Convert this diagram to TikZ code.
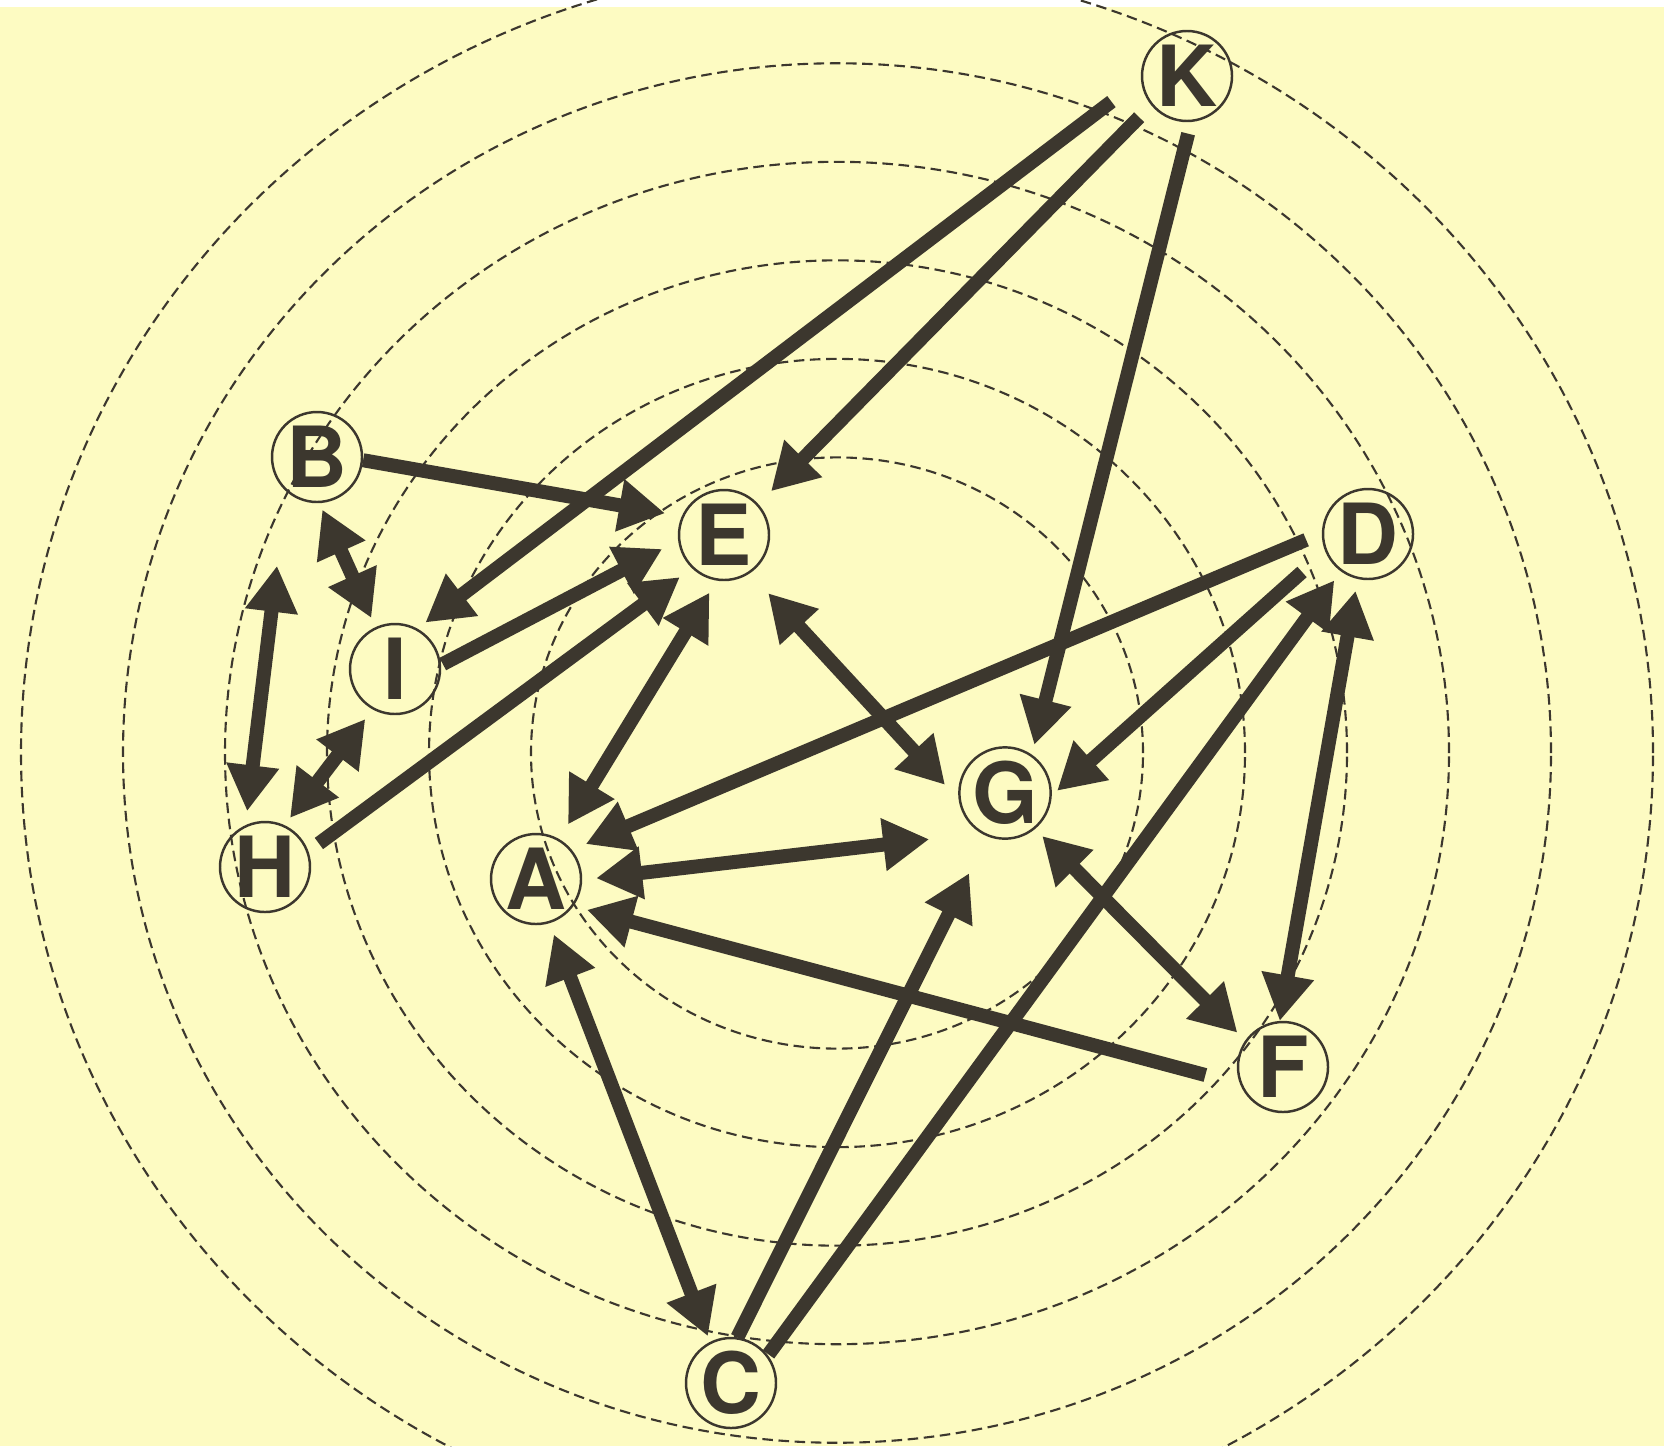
\documentclass[tikz,border=0pt]{standalone}
\usepackage{fontspec}
\setsansfont{TeX Gyre Heros}
\usetikzlibrary{arrows.meta}

\definecolor{paper}{RGB}{253,251,194}
\definecolor{ink}{RGB}{60,55,46}

\tikzset{
  ring/.style={ink, line width=0.6pt, dash pattern=on 3pt off 1.6pt},
  agent/.style={circle, draw=ink, line width=0.7pt, minimum size=0.9cm, inner sep=0pt,
    text=ink, font=\sffamily\bfseries\fontsize{24}{24}\selectfont},
  link/.style={ink, line width=0.14cm},
  oneway/.style={link, -{Triangle[length=0.46cm,width=0.50cm]}},
  twoway/.style={link, {Triangle[length=0.46cm,width=0.50cm]}-{Triangle[length=0.46cm,width=0.50cm]}}
}

\begin{document}
\begin{tikzpicture}
    %paper
    \useasboundingbox (0,0) rectangle (16.64,-14.46);
    \clip (0,0) rectangle (16.64,-14.46);
    \fill[paper] (0,0) rectangle (16.64,-14.46);
    \fill[white] (0,0) rectangle (16.64,-0.07);
    %rings
    \foreach \r in {3.06,4.08,5.10,6.12,7.14,8.16}
        \draw[ring] (8.37,-7.53) ellipse [x radius=\r, y radius={0.966*\r}];
    %agents
    \node[agent] (K) at (11.87,-0.76) {K};
    \node[agent] (B) at (3.17,-4.57) {B};
    \node[agent] (E) at (7.24,-5.35) {E};
    \node[agent] (D) at (13.68,-5.34) {D};
    \node[agent] (I) at (3.95,-6.69) {I};
    \node[agent] (G) at (10.05,-7.93) {G};
    \node[agent] (H) at (2.65,-8.67) {H};
    \node[agent] (A) at (5.36,-8.79) {A};
    \node[agent] (F) at (12.83,-10.67) {F};
    \node[agent] (C) at (7.31,-13.83) {C};
    %from K
    \draw[oneway, shorten <=0.37cm, shorten >=0.10cm] (K.184) -- (I.61);
    \draw[oneway, shorten <=0.17cm, shorten >=0.18cm] (K.219) -- (E.42);
    \draw[oneway, shorten <=0.12cm, shorten >=0.10cm] (K.275) -- (G.55);
    %left group
    \draw[oneway, shorten >=0.17cm] (B.356) -- (E.156);
    \draw[twoway, shorten <=0.07cm, shorten >=0.10cm] (B.273) -- (I.115);
    \draw[twoway, shorten <=0.75cm, shorten >=0.14cm] (B.228) -- (H.115);
    \draw[twoway, shorten <=0.12cm, shorten >=0.09cm] (I.241) -- (H.65);
    \draw[oneway, shorten <=0.02cm, shorten >=0.18cm] (I.5) -- (E.187);
    \draw[oneway, shorten <=0.13cm, shorten >=0.15cm] (H.20) -- (E.226);
    %centre
    \draw[twoway, shorten <=0.14cm, shorten >=0.17cm] (E.261) -- (A.60);
    \draw[twoway, shorten <=0.27cm, shorten >=0.20cm] (E.304) -- (G.188);
    \draw[twoway, shorten <=0.14cm, shorten >=0.52cm] (A.359) -- (G.239);
    %from D
    \draw[oneway, shorten <=0.17cm, shorten >=0.15cm] (D.179) -- (A.39);
    \draw[oneway, shorten <=0.31cm, shorten >=0.07cm] (D.202) -- (G.357);
    \draw[twoway, shorten <=0.12cm] (D.257) -- (F.94);
    %from F
    \draw[oneway, shorten <=0.36cm, shorten >=0.14cm] (F.202) -- (A.324);
    \draw[twoway, shorten <=0.10cm, shorten >=0.11cm] (G.310) -- (F.145);
    %from C
    \draw[twoway, shorten <=0.12cm, shorten >=0.06cm] (A.287) -- (C.117);
    \draw[oneway, shorten >=0.41cm] (C.82) -- (G.248);
    \draw[oneway, shorten <=0.01cm, shorten >=0.11cm] (C.37) -- (D.234);
\end{tikzpicture}
\end{document}
